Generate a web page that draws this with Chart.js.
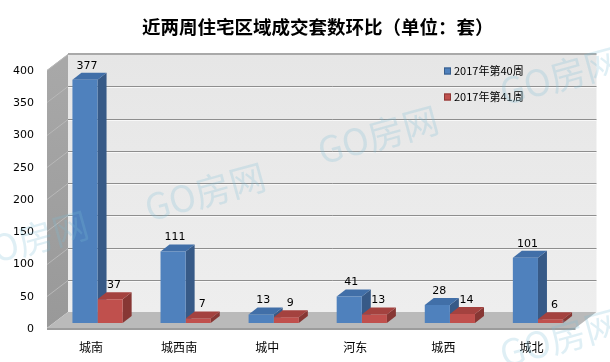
<!DOCTYPE html>
<html>
<head>
<meta charset="utf-8">
<script src="https://cdn.jsdelivr.net/npm/chart.js@4.4.1/dist/chart.umd.min.js"></script>
<style>
  html, body { margin: 0; padding: 0; background: #fff; }
  canvas { display: block; }
</style>
</head>
<body>
<canvas id="myBarChart" width="610" height="362"></canvas>
<script>
var categories = ['城南', '城西南', '城中', '河东', '城西', '城北'];
var week40 = [377, 111, 13, 41, 28, 101];
var week41 = [37, 7, 9, 13, 14, 6];
var seriesNames = ['2017年第40周', '2017年第41周'];
var yTicks = [0, 50, 100, 150, 200, 250, 300, 350, 400];

// fake 3d offsets, relative to the plane the bar fronts sit on
var FRONT = { x: -6.5, y: 5 };
var BACK = { x: 14.5, y: -11 };
var DEPTH = { x: 9, y: -7 };
var faces = [
  { front: '#4f81bd', side: '#375a87', top: '#416fa8' },
  { front: '#c0504d', side: '#873734', top: '#a4423f' }
];

function poly(ctx, pts, fill) {
  ctx.beginPath();
  ctx.moveTo(pts[0][0], pts[0][1]);
  for (var i = 1; i < pts.length; i++) ctx.lineTo(pts[i][0], pts[i][1]);
  ctx.closePath();
  ctx.fillStyle = fill;
  ctx.fill();
}

var box3d = {
  id: 'box3d',
  beforeDatasetsDraw: function(chart) {
    var ctx = chart.ctx, a = chart.chartArea, ys = chart.scales.y;
    var y0 = ys.getPixelForValue(0), yTop = ys.getPixelForValue(400);
    ctx.save();

    // left wall
    var g = ctx.createLinearGradient(0, yTop, 0, y0);
    g.addColorStop(0, '#a8a8a8');
    g.addColorStop(1, '#999999');
    poly(ctx, [[a.left + FRONT.x, y0 + FRONT.y], [a.left + BACK.x, y0 + BACK.y],
               [a.left + BACK.x, yTop + BACK.y], [a.left + FRONT.x, yTop + FRONT.y]], g);

    // back wall
    var bg = ctx.createLinearGradient(0, yTop + BACK.y, 0, y0 + BACK.y);
    bg.addColorStop(0, '#e6e6e6');
    bg.addColorStop(1, '#eeeeee');
    ctx.fillStyle = bg;
    ctx.fillRect(a.left + BACK.x, yTop + BACK.y, a.right - a.left, y0 - yTop);
    ctx.fillStyle = '#a9a9a9';
    ctx.fillRect(a.left + BACK.x, yTop + BACK.y - 1, a.right - a.left, 2);

    // floor
    poly(ctx, [[a.left + FRONT.x, y0 + FRONT.y], [a.left + BACK.x, y0 + BACK.y],
               [a.right + BACK.x, y0 + BACK.y], [a.right + FRONT.x, y0 + FRONT.y]], '#bababa');
    poly(ctx, [[a.left + FRONT.x, y0 + FRONT.y], [a.right + FRONT.x, y0 + FRONT.y],
               [a.right + FRONT.x, y0 + FRONT.y + 2], [a.left + FRONT.x, y0 + FRONT.y + 2]], '#9c9c9c');

    // gridlines on back and left walls
    ctx.lineWidth = 1;
    yTicks.forEach(function(v) {
      if (v === 0) return;
      var py = Math.round(ys.getPixelForValue(v) + BACK.y);
      if (v < 400) {
        ctx.strokeStyle = '#8e8e8e';
        ctx.beginPath();
        ctx.moveTo(a.left + BACK.x, py + 0.5);
        ctx.lineTo(a.right + BACK.x, py + 0.5);
        ctx.stroke();
        ctx.strokeStyle = '#f8f8f8';
        ctx.beginPath();
        ctx.moveTo(a.left + BACK.x, py + 1.5);
        ctx.lineTo(a.right + BACK.x, py + 1.5);
        ctx.stroke();
      }
      ctx.strokeStyle = '#b8b8b8';
      ctx.beginPath();
      ctx.moveTo(a.left + BACK.x, py + 0.5);
      ctx.lineTo(a.left + FRONT.x, py + 0.5 + FRONT.y - BACK.y);
      ctx.stroke();
    });

    // bar sides and tops, category by category so the red top lands over the blue side
    for (var j = 0; j < categories.length; j++) {
      for (var i = 0; i < chart.data.datasets.length; i++) {
        var el = chart.getDatasetMeta(i).data[j];
        var p = el.getProps(['x', 'y', 'base', 'width'], true);
        var l = p.x - p.width / 2, r = p.x + p.width / 2;
        poly(ctx, [[r, p.y], [r + DEPTH.x, p.y + DEPTH.y], [r + DEPTH.x, p.base + DEPTH.y], [r, p.base]], faces[i].side);
        poly(ctx, [[l, p.y], [l + DEPTH.x, p.y + DEPTH.y], [r + DEPTH.x, p.y + DEPTH.y], [r, p.y]], faces[i].top);
      }
    }
    ctx.restore();
  },
  afterDatasetsDraw: function(chart) {
    var ctx = chart.ctx, ys = chart.scales.y, xs = chart.scales.x;
    ctx.save();
    ctx.fillStyle = '#000';

    // value labels
    ctx.font = '11px "DejaVu Sans"';
    ctx.textAlign = 'center';
    ctx.textBaseline = 'middle';
    chart.data.datasets.forEach(function(ds, i) {
      chart.getDatasetMeta(i).data.forEach(function(el, j) {
        ctx.fillText(String(ds.data[j]), el.x + (i === 0 ? 2 : 4), el.y - 14);
      });
    });

    // y tick labels on the front plane
    ctx.textAlign = 'right';
    yTicks.forEach(function(v) {
      ctx.fillText(String(v), 34, ys.getPixelForValue(v) + FRONT.y + 1);
    });

    // category labels
    ctx.font = '12px "Noto Sans CJK SC"';
    ctx.textAlign = 'center';
    categories.forEach(function(c, j) {
      ctx.fillText(c, xs.getPixelForValue(j) + FRONT.x, 347);
    });

    // legend
    ctx.font = '11px "Noto Sans CJK SC"';
    ctx.textAlign = 'left';
    seriesNames.forEach(function(name, i) {
      var ly = 71 + i * 26;
      ctx.fillStyle = faces[i].front;
      ctx.fillRect(444, ly - 3.5, 7, 7);
      ctx.strokeStyle = i === 0 ? '#385d8a' : '#8c3836';
      ctx.lineWidth = 1;
      ctx.strokeRect(444.5, ly - 3, 6, 6);
      ctx.fillStyle = '#000';
      ctx.fillText(name, 454, ly);
    });
    ctx.restore();
  },
  afterDraw: function(chart) {
    // GO房网 watermarks
    var ctx = chart.ctx;
    var marks = [[205, 192], [378, 135], [560, 76], [28, 240], [560, 338]];
    ctx.save();
    ctx.font = '36px "Noto Sans CJK SC"';
    ctx.textAlign = 'center';
    ctx.textBaseline = 'middle';
    ctx.fillStyle = 'rgba(120, 190, 215, 0.24)';
    marks.forEach(function(m) {
      ctx.save();
      ctx.translate(m[0], m[1]);
      ctx.rotate(-0.27);
      ctx.fillText('GO房网', 0, 0);
      ctx.restore();
    });
    ctx.restore();
  }
};

window.onload = function() {
  var canvas = document.getElementById('myBarChart');
  var ctx = canvas.getContext('2d');
  new Chart(ctx, {
    type: 'bar',
    data: {
      labels: categories,
      datasets: [
        { label: seriesNames[0], data: week40, backgroundColor: faces[0].front },
        { label: seriesNames[1], data: week41, backgroundColor: faces[1].front }
      ]
    },
    options: {
      responsive: false,
      animation: false,
      devicePixelRatio: 1,
      categoryPercentage: 0.57,
      barPercentage: 1.0,
      layout: { padding: { left: 53.5, right: 28, top: 0, bottom: 39 } },
      plugins: {
        legend: { display: false },
        tooltip: { enabled: false },
        title: {
          display: true,
          text: '近两周住宅区域成交套数环比（单位：套）',
          color: '#000',
          font: { family: '"Noto Sans CJK SC"', size: 18.5, weight: 'bold' },
          padding: { top: 16, bottom: 26.8 }
        }
      },
      scales: {
        x: { display: false },
        y: { display: false, min: 0, max: 400, ticks: { stepSize: 50 } }
      }
    },
    plugins: [box3d]
  });
};
</script>
</body>
</html>
